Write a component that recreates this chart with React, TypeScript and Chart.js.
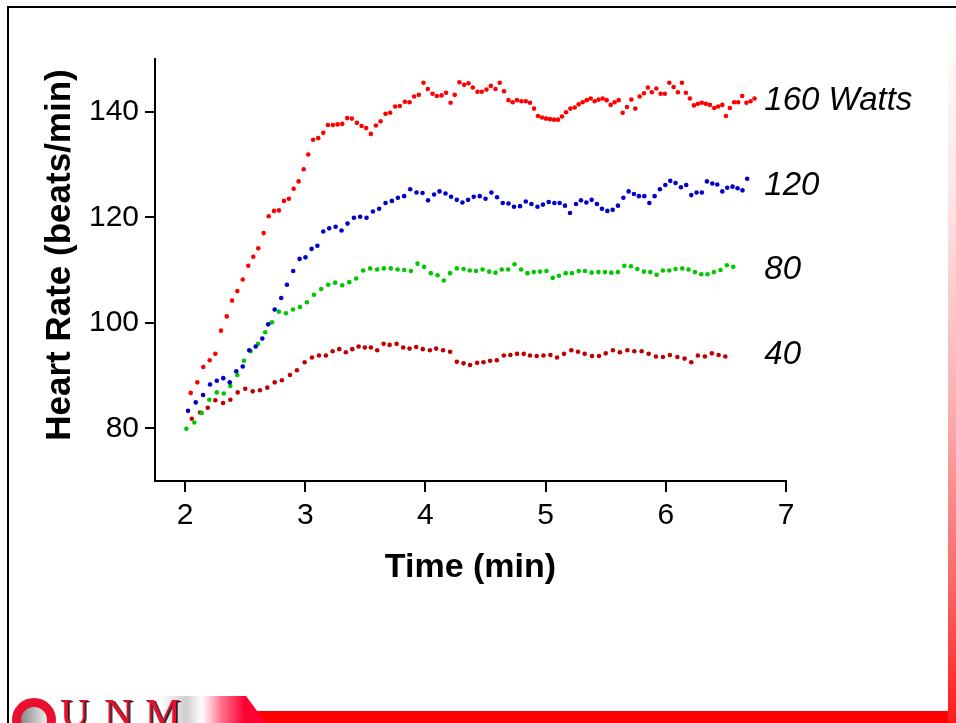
import { useEffect, useRef } from 'react';
import { Chart, registerables } from 'chart.js';

Chart.register(...registerables);

const FONT = '"Liberation Sans", Arial, Helvetica, sans-serif';

const xTicks = [2, 3, 4, 5, 6, 7];
const yTicks = [80, 100, 120, 140];
const xTitle = 'Time (min)';
const yTitle = 'Heart Rate (beats/min)';
const seriesNames = ['160 Watts', '120', '80', '40'];
const seriesColors = ['#ff0000', '#0000c8', '#00c800', '#c00000'];
const labelHR = [142, 126, 110, 94];
const labelTime = 6.82;

const t160 = [2.047,2.102,2.152,2.205,2.252,2.299,2.347,2.391,2.435,2.480,
  2.526,2.568,2.609,2.654,2.696,2.740,2.781,2.823,2.864,2.904,
  2.945,2.987,3.025,3.066,3.108,3.150,3.189,3.230,3.269,3.308,
  3.349,3.388,3.430,3.469,3.507,3.546,3.588,3.627,3.668,3.707,
  3.748,3.787,3.829,3.868,3.906,3.945,3.984,4.020,4.059,4.095,
  4.134,4.172,4.209,4.244,4.283,4.322,4.358,4.394,4.433,4.469,
  4.508,4.544,4.583,4.618,4.654,4.691,4.726,4.762,4.799,4.835,
  4.870,4.904,4.937,4.970,5.003,5.037,5.070,5.103,5.136,5.170,
  5.206,5.242,5.275,5.308,5.342,5.375,5.408,5.441,5.475,5.508,
  5.541,5.574,5.608,5.641,5.677,5.713,5.746,5.782,5.818,5.851,
  5.884,5.921,5.957,5.992,6.029,6.065,6.101,6.134,6.167,6.200,
  6.234,6.267,6.300,6.333,6.367,6.403,6.436,6.470,6.500,6.533,
  6.569,6.602,6.636,6.671,6.705,6.738];
const hr160 = [86.7,88.7,91.6,92.9,94.1,98.5,101.2,104.2,106.0,108.2,
  110.8,112.5,114.1,117.0,120.2,121.2,121.3,123.1,123.5,125.4,
  126.8,129.1,131.9,134.7,135.0,136.0,137.5,137.5,137.6,137.7,
  138.8,138.7,137.9,137.3,136.9,135.8,137.4,138.2,139.6,139.8,
  141.0,141.1,141.9,141.8,142.9,143.2,145.5,144.3,143.4,143.0,
  143.1,143.6,141.7,143.2,145.6,145.1,145.4,144.6,143.8,143.8,
  144.2,144.9,144.3,145.5,143.9,142.2,141.8,142.2,142.0,142.0,
  141.7,140.6,139.2,138.9,138.7,138.6,138.5,138.5,139.1,139.9,
  140.6,140.8,141.4,141.8,142.2,142.5,142.0,142.3,142.5,142.2,
  141.3,141.8,142.2,139.8,140.9,142.3,140.6,142.9,143.5,144.6,
  143.7,144.4,143.4,143.4,145.5,144.7,143.7,145.5,143.6,142.5,
  141.2,141.5,141.7,141.5,141.3,140.7,141.0,141.3,139.2,140.7,
  141.8,141.8,143.0,141.7,142.0,142.5];

const t120 = [2.025,2.089,2.150,2.208,2.264,2.318,2.372,2.426,2.480,2.534,
  2.588,2.643,2.692,2.746,2.800,2.848,2.900,2.953,3.002,3.053,
  3.101,3.150,3.199,3.253,3.302,3.352,3.405,3.457,3.510,3.563,
  3.615,3.668,3.721,3.771,3.823,3.873,3.926,3.976,4.022,4.072,
  4.117,4.167,4.213,4.261,4.308,4.355,4.402,4.452,4.500,4.549,
  4.596,4.643,4.691,4.737,4.787,4.835,4.882,4.932,4.978,5.026,
  5.073,5.117,5.161,5.203,5.253,5.294,5.339,5.383,5.427,5.469,
  5.514,5.558,5.602,5.647,5.691,5.735,5.776,5.821,5.863,5.907,
  5.951,5.996,6.037,6.081,6.126,6.170,6.212,6.256,6.300,6.342,
  6.387,6.428,6.470,6.511,6.555,6.597,6.638,6.677];
const hr120 = [83.3,84.9,86.3,88.3,89.0,89.5,88.7,90.8,91.7,94.8,
  95.5,97.0,99.7,102.5,104.7,107.2,109.8,112.1,112.4,114.0,
  114.6,117.3,117.9,118.2,117.5,118.8,119.9,120.1,119.9,121.1,
  121.6,122.7,123.1,123.7,124.0,125.3,124.7,124.6,123.2,124.3,
  124.9,124.5,123.9,123.3,122.8,123.3,123.9,124.0,123.5,124.7,
  123.8,122.7,122.6,122.0,122.1,123.0,122.5,122.0,122.4,122.9,
  122.7,122.7,122.2,120.8,122.5,123.2,122.8,123.3,122.5,121.6,
  121.2,121.4,122.2,123.7,124.9,124.4,124.0,124.0,122.7,124.0,
  125.3,126.1,126.9,126.5,125.7,126.1,124.2,124.7,124.7,126.8,
  126.4,126.2,124.9,125.6,125.8,125.5,125.1,127.3];

const t80 = [2.011,2.077,2.139,2.202,2.264,2.322,2.377,2.435,2.490,2.546,
  2.607,2.667,2.723,2.781,2.840,2.898,2.956,3.014,3.072,3.133,
  3.191,3.249,3.308,3.366,3.424,3.482,3.540,3.598,3.654,3.712,
  3.768,3.823,3.879,3.934,3.989,4.045,4.101,4.153,4.205,4.261,
  4.317,4.369,4.421,4.475,4.530,4.583,4.635,4.688,4.741,4.796,
  4.849,4.901,4.953,5.007,5.059,5.111,5.167,5.219,5.275,5.327,
  5.383,5.439,5.494,5.547,5.602,5.655,5.710,5.763,5.818,5.871,
  5.924,5.976,6.029,6.081,6.137,6.189,6.242,6.295,6.347,6.400,
  6.455,6.508,6.561];
const hr80 = [79.9,81.1,82.9,85.4,86.8,86.6,88.0,90.1,92.8,94.6,
  96.0,98.2,100.1,102.1,101.8,102.5,103.0,103.9,105.3,106.4,
  107.2,107.6,107.1,107.7,108.4,109.9,110.3,110.1,110.3,110.3,
  110.1,110.0,109.8,111.2,110.6,109.4,109.0,108.0,109.4,110.3,
  110.2,109.9,109.8,110.1,109.7,109.5,110.1,110.1,111.1,110.1,
  109.4,109.6,109.7,109.8,108.5,108.9,109.4,109.4,109.8,109.8,
  109.5,109.6,109.6,109.5,109.6,110.8,110.7,110.2,109.7,109.6,
  109.1,109.9,109.9,110.2,110.3,110.1,109.6,109.2,109.2,109.6,
  110.0,110.9,110.6];

const t40 = [2.056,2.125,2.189,2.252,2.316,2.377,2.438,2.501,2.563,2.623,
  2.684,2.746,2.806,2.873,2.931,2.995,3.056,3.114,3.172,3.228,
  3.283,3.338,3.391,3.444,3.496,3.546,3.599,3.652,3.702,3.760,
  3.815,3.868,3.923,3.978,4.037,4.089,4.147,4.205,4.261,4.317,
  4.371,4.430,4.483,4.538,4.594,4.652,4.707,4.762,4.818,4.870,
  4.926,4.982,5.040,5.095,5.153,5.214,5.269,5.325,5.386,5.444,
  5.500,5.560,5.618,5.680,5.738,5.799,5.857,5.918,5.976,6.034,
  6.096,6.156,6.212,6.267,6.325,6.383,6.439,6.495];
const hr40 = [81.8,83.0,83.9,85.3,84.8,85.4,86.8,87.5,87.0,87.2,
  87.7,88.7,89.1,90.1,91.0,92.5,93.4,93.8,93.8,94.6,
  95.0,94.4,95.0,95.5,95.3,95.3,94.8,96.0,95.8,96.0,
  95.3,95.1,95.4,95.0,94.8,95.1,94.8,94.5,92.6,92.3,
  92.0,92.4,92.5,92.8,92.9,93.8,93.9,94.1,94.1,93.8,
  93.7,93.8,93.9,93.4,94.1,94.8,94.5,94.1,93.7,93.7,
  94.2,94.8,94.4,94.8,94.6,94.6,94.1,93.6,93.5,93.9,
  93.5,93.2,92.5,93.8,93.6,94.2,93.9,93.6];

const TICK_FONT = `30px ${FONT}`;
const TITLE_FONT = `bold 34px ${FONT}`;
const YTITLE_FONT = `bold 35px ${FONT}`;
const LABEL_FONT = `italic 33px ${FONT}`;

const textPlugin = {
  id: 'slideTexts',
  afterDraw(chart: any) {
    const { ctx, scales, chartArea } = chart;
    const x = scales.x;
    const y = scales.y;
    const put = (text: string, px: number, py: number, font: string, align: CanvasTextAlign, rot = 0) => {
      ctx.save();
      ctx.translate(px, py);
      if (rot) ctx.rotate(rot);
      ctx.font = font;
      ctx.fillStyle = '#000';
      ctx.textAlign = align;
      ctx.textBaseline = 'middle';
      ctx.fillText(text, 0, 0);
      ctx.restore();
    };
    yTicks.forEach((v) => put(String(v), chartArea.left - 16, y.getPixelForValue(v), TICK_FONT, 'right'));
    xTicks.forEach((v) => put(String(v), x.getPixelForValue(v), chartArea.bottom + 35, TICK_FONT, 'center'));
    put(xTitle, (chartArea.left + chartArea.right) / 2, chartArea.bottom + 87, TITLE_FONT, 'center');
    put(yTitle, 60, 255, YTITLE_FONT, 'center', -Math.PI / 2);
    seriesNames.forEach((n, i) =>
      put(n, x.getPixelForValue(labelTime), y.getPixelForValue(labelHR[i]), LABEL_FONT, 'left'));
  },
};

export default function App() {
  const ref = useRef<HTMLCanvasElement>(null);
  useEffect(() => {
    const mk = (t: number[], v: number[]) => t.map((tt, i) => ({ x: tt, y: v[i] }));
    const series = [mk(t160, hr160), mk(t120, hr120), mk(t80, hr80), mk(t40, hr40)];
    const chart = new Chart(ref.current as HTMLCanvasElement, {
      type: 'scatter',
      data: {
        datasets: series.map((d, i) => ({
          label: seriesNames[i],
          data: d,
          backgroundColor: seriesColors[i],
          borderColor: seriesColors[i],
          borderWidth: 0,
          pointRadius: 2.3,
          showLine: false,
        })),
      },
      options: {
        animation: false,
        responsive: false,
        layout: { padding: { left: 0, top: 59, right: 170, bottom: 0 } },
        plugins: { legend: { display: false }, tooltip: { enabled: false } },
        scales: {
          x: {
            type: 'linear',
            min: 1.75,
            max: 7,
            afterBuildTicks: (s: any) => { s.ticks = xTicks.map((v) => ({ value: v })); },
            afterFit: (s: any) => { s.height = 242; },
            ticks: { display: false },
            grid: { drawOnChartArea: false, drawTicks: true, tickLength: 11, color: '#000', lineWidth: 2 },
            border: { display: true, color: '#000', width: 2 },
          },
          y: {
            type: 'linear',
            min: 70,
            max: 150,
            afterBuildTicks: (s: any) => { s.ticks = yTicks.map((v) => ({ value: v })); },
            afterFit: (s: any) => { s.width = 155; },
            ticks: { display: false },
            grid: { drawOnChartArea: false, drawTicks: true, tickLength: 10, color: '#000', lineWidth: 2 },
            border: { display: true, color: '#000', width: 2 },
          },
        },
      } as any,
      plugins: [textPlugin],
    });
    return () => chart.destroy();
  }, []);

  const abs = (s: React.CSSProperties): React.CSSProperties => ({ position: 'absolute', ...s });
  const letter = (ch: string, left: number) => (
    <span style={abs({ left, top: 693, fontFamily: '"Liberation Serif", "Times New Roman", serif', fontSize: 40, lineHeight: '40px', color: '#e8102e', textShadow: '1px 1px 0 #222, 2px 1px 0 #555' })}>{ch}</span>
  );

  return (
    <div style={abs({ left: 0, top: 0, width: 956, height: 723, overflow: 'hidden', background: '#fff' })}>
      <canvas ref={ref} width={956} height={723} style={abs({ left: 0, top: 0, width: 956, height: 723 })} />
      <div style={abs({ left: 7, top: 6, width: 949, height: 2, background: '#000' })} />
      <div style={abs({ left: 7, top: 6, width: 2, height: 717, background: '#000' })} />
      <div style={abs({ left: 948, top: 13, width: 8, height: 710, background: 'linear-gradient(to bottom, #ffffff 0%, #fde6e6 25%, #f9b0b0 55%, #f86a6a 80%, #ff1a1a 100%)' })} />
      <div style={abs({ left: 250, top: 711, width: 698, height: 12, background: '#ff0000' })} />
      <div style={abs({ left: 160, top: 696, width: 106, height: 27, clipPath: 'polygon(0 0, 86px 0, 106px 27px, 0 27px)', background: 'linear-gradient(to right, rgba(255,255,255,0) 0px, #cfcfcf 26px, #ffffff 42px, #ff6f8a 62px, #ff0033 85px)' })} />
      <div style={abs({ left: 12, top: 698, width: 44, height: 44, borderRadius: '50%', boxSizing: 'border-box', border: '9px solid #e8102e', background: 'linear-gradient(to right, #888, #eee)' })} />
      {letter('U', 60)}
      {letter('N', 104)}
      {letter('M', 145)}
    </div>
  );
}
